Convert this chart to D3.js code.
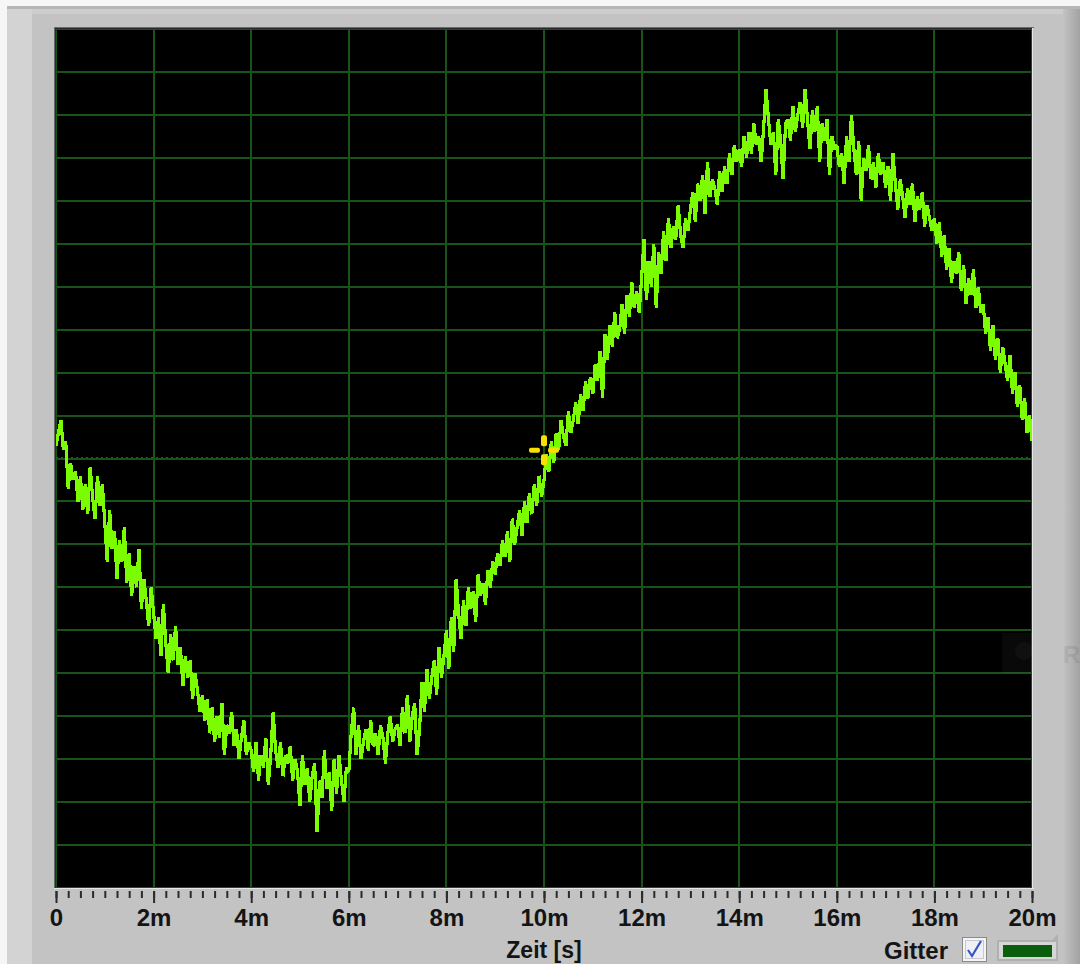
<!DOCTYPE html>
<html>

<head>
    <meta charset="UTF-8">
    <style>
        body { margin: 0; background: #c3c3c3; }
        svg { display: block; }
        text { font-family: "Liberation Sans", Arial, sans-serif; font-weight: bold; }
    </style>
</head>

<body>
    <svg></svg>
    <script src="https://d3js.org/d3.v7.min.js"></script>
    <script>
        let width = 1080,
            height = 964;

        // signal, one value every 0.05 ms (grid units, 20 divisions = -10..10)
        let signal0to4ms = [
            0.3, 0.6, 0.9, 0.2, 0.4, -0.7, -0.1, -0.5, -0.3, -1.0, -0.4, -1.2, -0.6, -1.3, -0.2, -0.9, -1.4, -0.4, -1.1, -0.6,
            -1.5, -2.4, -1.2, -2.1, -1.7, -2.8, -1.9, -2.4, -1.6, -2.9, -2.2, -3.2, -2.5, -3.0, -2.1, -3.5, -2.8, -3.3, -3.9, -3.0,
            -3.6, -4.2, -3.7, -4.6, -3.4, -4.3, -5.0, -4.1, -4.7, -3.9, -4.8, -4.4, -5.3, -4.6, -5.1, -4.7, -5.6, -5.0, -5.4, -5.9,
            -5.5, -6.1, -5.6, -6.4, -5.8, -6.6, -6.0, -6.5, -5.7, -6.9, -6.2, -6.4, -5.9, -6.7, -6.3, -7.0, -6.5, -6.1, -6.9, -6.6
        ];
        let signal4to8ms = [
            -6.8, -7.3, -6.6, -7.5, -6.9, -7.2, -6.5, -7.6, -6.9, -5.9, -6.8, -7.2, -6.6, -7.4, -6.9, -7.1, -6.7, -7.5, -7.0, -7.3,
            -8.1, -6.9, -7.6, -7.2, -8.0, -7.4, -7.1, -8.7, -7.5, -7.9, -6.8, -7.7, -7.3, -8.2, -7.0, -7.8, -6.9, -7.5, -8.0, -7.2,
            -7.3, -6.4, -5.8, -6.9, -6.2, -7.0, -6.6, -6.3, -6.8, -6.1, -6.7, -6.4, -6.9, -6.2, -6.5, -7.1, -6.4, -6.0, -6.6, -6.3,
            -6.2, -6.7, -5.8, -6.4, -5.5, -6.6, -6.0, -5.7, -6.9, -6.3, -5.2, -5.9, -4.9, -5.6, -5.1, -4.7, -5.5, -4.4, -5.1, -4.6
        ];
        let signal8to12ms = [
            -4.0, -4.9, -3.7, -4.5, -2.8, -3.6, -4.2, -3.3, -3.9, -3.0, -3.5, -3.1, -3.8, -2.7, -3.2, -2.9, -3.4, -2.6, -3.0, -2.4,
            -2.7, -2.2, -2.5, -1.9, -2.3, -1.7, -2.4, -1.4, -2.0, -1.6, -1.2, -1.8, -1.0, -1.5, -0.8, -1.3, -0.6, -1.1, -0.4, -0.9,
            -0.5, 0.1, -0.3, 0.4, -0.1, 0.6, 0.2, 0.9, 0.5, 0.3, 1.1, 0.6, 0.9, 1.3, 0.8, 1.5, 1.1, 1.8, 1.4, 1.9,
            1.5, 2.2, 1.8, 2.5, 1.4, 2.9, 2.3, 3.1, 2.6, 3.4, 2.8, 3.0, 3.6, 2.9, 3.8, 3.3, 4.1, 3.5, 3.9, 3.4
        ];
        let signal12to16ms = [
            4.2, 5.1, 3.7, 4.6, 4.0, 5.0, 3.5, 4.8, 4.3, 5.3, 4.6, 5.6, 4.9, 5.4, 5.1, 5.9, 5.2, 4.9, 5.6, 5.3,
            5.8, 6.2, 5.5, 6.4, 6.0, 6.6, 5.7, 6.9, 6.1, 6.5, 6.3, 5.9, 6.7, 6.2, 6.8, 6.4, 7.1, 6.6, 7.3, 6.9,
            7.2, 6.8, 7.5, 7.0, 7.6, 7.1, 7.8, 7.3, 7.5, 6.9, 7.7, 8.6, 7.9, 7.3, 7.6, 6.6, 7.9, 7.4, 6.5, 7.8,
            7.9, 7.4, 8.2, 7.6, 8.0, 8.3, 7.7, 8.6, 7.9, 7.2, 8.1, 7.6, 8.2, 6.9, 7.8, 7.4, 7.9, 6.6, 7.5, 7.2
        ];
        let signal16to20ms = [
            7.3, 6.8, 7.1, 6.4, 7.5, 6.9, 8.0, 7.2, 6.6, 7.4, 6.0, 7.0, 6.7, 7.3, 6.5, 6.9, 6.3, 7.1, 6.6, 6.9,
            6.3, 6.8, 6.0, 7.1, 6.4, 5.8, 6.5, 6.1, 5.6, 6.3, 5.9, 6.4, 5.5, 6.1, 5.8, 6.2, 5.4, 5.9, 5.6, 5.3,
            5.6, 5.0, 5.5, 4.7, 5.2, 4.4, 4.9, 4.1, 4.6, 4.3, 4.8, 3.9, 4.5, 3.6, 4.2, 3.8, 4.4, 3.5, 4.0, 3.4,
            3.6, 2.9, 3.3, 2.5, 3.1, 2.3, 2.8, 2.0, 2.6, 2.2, 1.8, 2.4, 1.5, 2.0, 1.2, 1.7, 0.9, 1.4, 0.6, 1.0,
            0.4
        ];
        let sampleStep = 0.00005; // seconds
        let majorTicks = [0, 0.002, 0.004, 0.006, 0.008, 0.010, 0.012, 0.014, 0.016, 0.018, 0.020];
        let minorStep = 0.00025;
        let cursorPoint = { t: 0.010, v: 0.19 };
        let xLabel = "Zeit [s]";
        let legendLabel = "Gitter";

        let values = signal0to4ms.concat(signal4to8ms, signal8to12ms, signal12to16ms, signal16to20ms);
        let data = values.map((v, i) => ({ t: i * sampleStep, v: v }));

        let svg = d3.select("svg")
            .attr("width", width)
            .attr("height", height);

        let plot = { left: 56, right: 1032, top: 29, bottom: 888 };

        let x = d3.scaleLinear()
            .domain([0, 0.02])
            .range([plot.left, plot.right]);

        let y = d3.scaleLinear()
            .domain([-10, 10])
            .range([plot.bottom, plot.top]);

        // panel frame
        let defs = svg.append("defs");
        let grad = defs.append("linearGradient").attr("id", "rightShade");
        grad.append("stop").attr("offset", "0%").attr("stop-color", "#c3c3c3");
        grad.append("stop").attr("offset", "100%").attr("stop-color", "#a2a2a2");

        svg.append("rect").attr("width", width).attr("height", height).attr("fill", "#c3c3c3");
        svg.append("rect").attr("width", width).attr("height", 6).attr("fill", "#f6f6f6");
        svg.append("rect").attr("y", 6).attr("width", width).attr("height", 3).attr("fill", "#b6b6b6");
        svg.append("rect").attr("y", 9).attr("width", width).attr("height", 5).attr("fill", "#cdcdcd");
        svg.append("rect").attr("y", 6).attr("width", 7).attr("height", height).attr("fill", "#f6f6f6");
        svg.append("rect").attr("x", 7).attr("y", 9).attr("width", 25).attr("height", height).attr("fill", "#d3d3d3");
        svg.append("rect").attr("x", 1063).attr("y", 9).attr("width", 17).attr("height", height).attr("fill", "url(#rightShade)");

        // plot background
        svg.append("rect")
            .attr("x", plot.left).attr("y", plot.top)
            .attr("width", plot.right - plot.left).attr("height", plot.bottom - plot.top)
            .attr("fill", "#000");

        // grid
        let grid = svg.append("g").attr("id", "grid")
            .attr("stroke", "#185418")
            .attr("stroke-width", 2)
            .attr("shape-rendering", "crispEdges");

        grid.selectAll("line.v")
            .data(majorTicks)
            .enter()
            .append("line")
            .attr("class", "v")
            .attr("x1", d => x(d)).attr("x2", d => x(d))
            .attr("y1", plot.top).attr("y2", plot.bottom);

        grid.selectAll("line.h")
            .data(d3.range(-10, 11))
            .enter()
            .append("line")
            .attr("class", "h")
            .attr("x1", plot.left).attr("x2", plot.right)
            .attr("y1", d => y(d)).attr("y2", d => y(d));

        // cursor line (dotted)
        svg.append("line")
            .attr("x1", plot.left).attr("x2", plot.right)
            .attr("y1", y(0) - 1.5).attr("y2", y(0) - 1.5)
            .attr("stroke", "#1f641f")
            .attr("stroke-width", 1)
            .attr("stroke-dasharray", "2,3")
            .attr("shape-rendering", "crispEdges");

        // faint ghost overlay at right edge
        svg.append("rect")
            .attr("x", 1002).attr("y", 633).attr("width", 30).attr("height", 40)
            .attr("fill", "#fff").attr("opacity", 0.035);
        svg.append("circle")
            .attr("cx", 1024).attr("cy", 651).attr("r", 9)
            .attr("fill", "#fff").attr("opacity", 0.03);

        // signal
        let line = d3.line()
            .x(d => x(d.t))
            .y(d => y(d.v));

        svg.append("path")
            .datum(data)
            .attr("fill", "none")
            .attr("stroke", "#7cfc00")
            .attr("stroke-width", 3.2)
            .attr("stroke-linejoin", "miter")
            .attr("stroke-miterlimit", 2.5)
            .attr("shape-rendering", "crispEdges")
            .attr("d", line);

        // cursor marker
        let cx = x(cursorPoint.t),
            cy = y(cursorPoint.v);
        let cursor = svg.append("g")
            .attr("transform", "translate(" + cx + "," + cy + ")")
            .attr("fill", "#f7e000");
        cursor.append("rect").attr("x", -3).attr("y", -15).attr("width", 6).attr("height", 11).attr("rx", 2);
        cursor.append("rect").attr("x", -3).attr("y", 4).attr("width", 6).attr("height", 11).attr("rx", 2);
        cursor.append("rect").attr("x", -15).attr("y", -2.5).attr("width", 11).attr("height", 5).attr("rx", 2);
        cursor.append("rect").attr("x", 4).attr("y", -2.5).attr("width", 11).attr("height", 5).attr("rx", 2);

        // sunken border around plot
        let border = svg.append("g").attr("shape-rendering", "crispEdges");
        border.append("line").attr("x1", plot.left - 2).attr("x2", plot.right + 2)
            .attr("y1", plot.top - 1.5).attr("y2", plot.top - 1.5)
            .attr("stroke", "#6a6a6a").attr("stroke-width", 1);
        border.append("line").attr("x1", plot.left - 0.5).attr("x2", plot.right)
            .attr("y1", plot.top - 0.5).attr("y2", plot.top - 0.5)
            .attr("stroke", "#2a2a2a").attr("stroke-width", 1);
        border.append("line").attr("x1", plot.left - 1.5).attr("x2", plot.left - 1.5)
            .attr("y1", plot.top - 2).attr("y2", plot.bottom + 1)
            .attr("stroke", "#6a6a6a").attr("stroke-width", 1);
        border.append("line").attr("x1", plot.left - 0.5).attr("x2", plot.left - 0.5)
            .attr("y1", plot.top - 1).attr("y2", plot.bottom)
            .attr("stroke", "#2a2a2a").attr("stroke-width", 1);
        border.append("line").attr("x1", plot.left - 2).attr("x2", plot.right + 2)
            .attr("y1", plot.bottom + 0.5).attr("y2", plot.bottom + 0.5)
            .attr("stroke", "#e6e6e6").attr("stroke-width", 1);
        border.append("line").attr("x1", plot.right + 0.5).attr("x2", plot.right + 0.5)
            .attr("y1", plot.top - 1).attr("y2", plot.bottom + 1)
            .attr("stroke", "#e6e6e6").attr("stroke-width", 1);

        // ghost "R" outside the plot
        svg.append("text")
            .attr("x", 1063).attr("y", 663)
            .attr("font-size", 24)
            .attr("font-weight", "normal")
            .attr("fill", "#000")
            .attr("opacity", 0.07)
            .text("R");

        // x axis
        let minorAxis = d3.axisBottom(x)
            .tickValues(d3.range(0, 0.02 + minorStep / 2, minorStep))
            .tickSize(7)
            .tickFormat("");

        svg.append("g")
            .attr("transform", "translate(0," + (plot.bottom + 3) + ")")
            .call(minorAxis)
            .call(g => g.select(".domain").remove())
            .call(g => g.selectAll(".tick line").attr("stroke", "#2b2b2b").attr("stroke-width", 2));

        let majorAxis = d3.axisBottom(x)
            .tickValues(majorTicks)
            .tickSize(12)
            .tickPadding(6)
            .tickFormat(d3.format("~s"));

        svg.append("g")
            .attr("transform", "translate(0," + (plot.bottom + 3) + ")")
            .call(majorAxis)
            .call(g => g.select(".domain").remove())
            .call(g => g.selectAll(".tick line").attr("stroke", "#2b2b2b").attr("stroke-width", 2))
            .call(g => g.selectAll(".tick text")
                .attr("font-size", 24)
                .attr("font-family", "'Liberation Sans', Arial, sans-serif")
                .attr("font-weight", "bold")
                .attr("fill", "#141414"));

        svg.append("text")
            .attr("x", (plot.left + plot.right) / 2)
            .attr("y", 958)
            .attr("text-anchor", "middle")
            .attr("font-size", 23)
            .attr("fill", "#141414")
            .text(xLabel);

        // grid legend: label, checkbox, colour swatch
        svg.append("text")
            .attr("x", 948)
            .attr("y", 959)
            .attr("text-anchor", "end")
            .attr("font-size", 24)
            .attr("fill", "#141414")
            .text(legendLabel);

        svg.append("rect")
            .attr("x", 962.5).attr("y", 937.5).attr("width", 24).attr("height", 24)
            .attr("fill", "#f4f4f4").attr("stroke", "#8a8a8a");
        svg.append("rect")
            .attr("x", 965.5).attr("y", 940.5).attr("width", 18).attr("height", 18)
            .attr("fill", "#eef0f6").attr("stroke", "#c8c8d0");
        svg.append("path")
            .attr("d", "M968,950 L972,956 L981,941")
            .attr("fill", "none")
            .attr("stroke", "#3555c8")
            .attr("stroke-width", 2.2);

        svg.append("path")
            .attr("d", "M997,940 L1052,940 L1058,934 L1058,961 L997,961 Z")
            .attr("fill", "#b0b0b0");
        svg.append("rect")
            .attr("x", 999).attr("y", 942).attr("width", 57).attr("height", 17)
            .attr("fill", "#d6d6d6");
        svg.append("rect")
            .attr("x", 1003).attr("y", 945).attr("width", 49).attr("height", 12)
            .attr("fill", "#0b5e0b");
    </script>
</body>

</html>
